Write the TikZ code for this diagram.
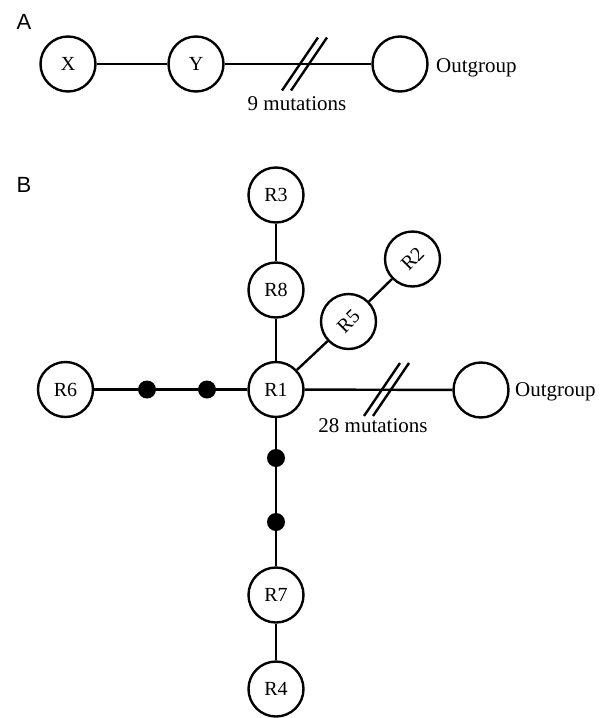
\documentclass[tikz,border=0pt]{standalone}
\usepackage{fontspec}
\setmainfont{Liberation Serif}
\newfontfamily\panelfont{Liberation Sans}
\begin{document}
\begin{tikzpicture}[x=1pt,y=-1pt,
  hap/.style={circle,draw=black,line width=2.4pt,minimum size=55pt,inner sep=0pt,
    font=\fontsize{20}{24}\selectfont},
  med/.style={circle,fill=black,minimum size=18pt,inner sep=0pt},
  link/.style={line width=2.4pt},
  txt/.style={font=\fontsize{21}{25}\selectfont,inner sep=0pt},
  panel/.style={font=\panelfont\fontsize{22}{26}\selectfont,inner sep=0pt}]
\useasboundingbox (0,0) rectangle (608,718);
% Panel A
\node[panel] (pA) at (24,22) {A};
\node[hap] (X) at (68,64) {X};
\node[hap] (Y) at (196,64) {Y};
\node[hap] (OA) at (400,64) {};
\node[txt,anchor=west] (OAt) at (436,68) {Outgroup};
\node[txt] (mA) at (297,104) {9 mutations};
\draw[link] (X) -- (Y);
\draw[link] (Y) -- (OA);
\coordinate (bA1) at (300,64);
\coordinate (bA2) at (309,64);
\draw[link] ([shift={(-18,26.5)}]bA1) -- ([shift={(18,-26.5)}]bA1);
\draw[link] ([shift={(-18,26.5)}]bA2) -- ([shift={(18,-26.5)}]bA2);
% Panel B
\node[panel] (pB) at (24,185) {B};
\node[hap] (R3) at (276,195) {R3};
\node[hap] (R8) at (276,290) {R8};
\node[hap] (R1) at (276,389.5) {R1};
\node[hap] (R6) at (65.5,389.5) {R6};
\node[hap] (R5) at (348.5,321.5) {\rotatebox{45}{R5}};
\node[hap] (R2) at (412.5,259) {\rotatebox{45}{R2}};
\node[hap] (R7) at (276,595) {R7};
\node[hap] (R4) at (276,689) {R4};
\node[hap] (OB) at (481,390) {};
\node[txt,anchor=west] (OBt) at (515,392) {Outgroup};
\node[txt] (mB) at (373,426) {28 mutations};
\node[med] (m1) at (147,389.5) {};
\node[med] (m2) at (207,389.5) {};
\node[med] (m3) at (276,458) {};
\node[med] (m4) at (276,522) {};
\draw[link] (R3) -- (R8);
\draw[link] (R8) -- (R1);
\draw[link] (R1) -- (R5);
\draw[link] (R5) -- (R2);
\draw[link] (R6) -- (m1) -- (m2) -- (R1);
\draw[link] (R1) -- (m3) -- (m4) -- (R7);
\draw[link] (R7) -- (R4);
\draw[link] (R1) -- (OB);
\coordinate (bB1) at (382,389.5);
\coordinate (bB2) at (391,389.5);
\draw[link] ([shift={(-18,26.5)}]bB1) -- ([shift={(18,-26.5)}]bB1);
\draw[link] ([shift={(-18,26.5)}]bB2) -- ([shift={(18,-26.5)}]bB2);
\end{tikzpicture}
\end{document}
